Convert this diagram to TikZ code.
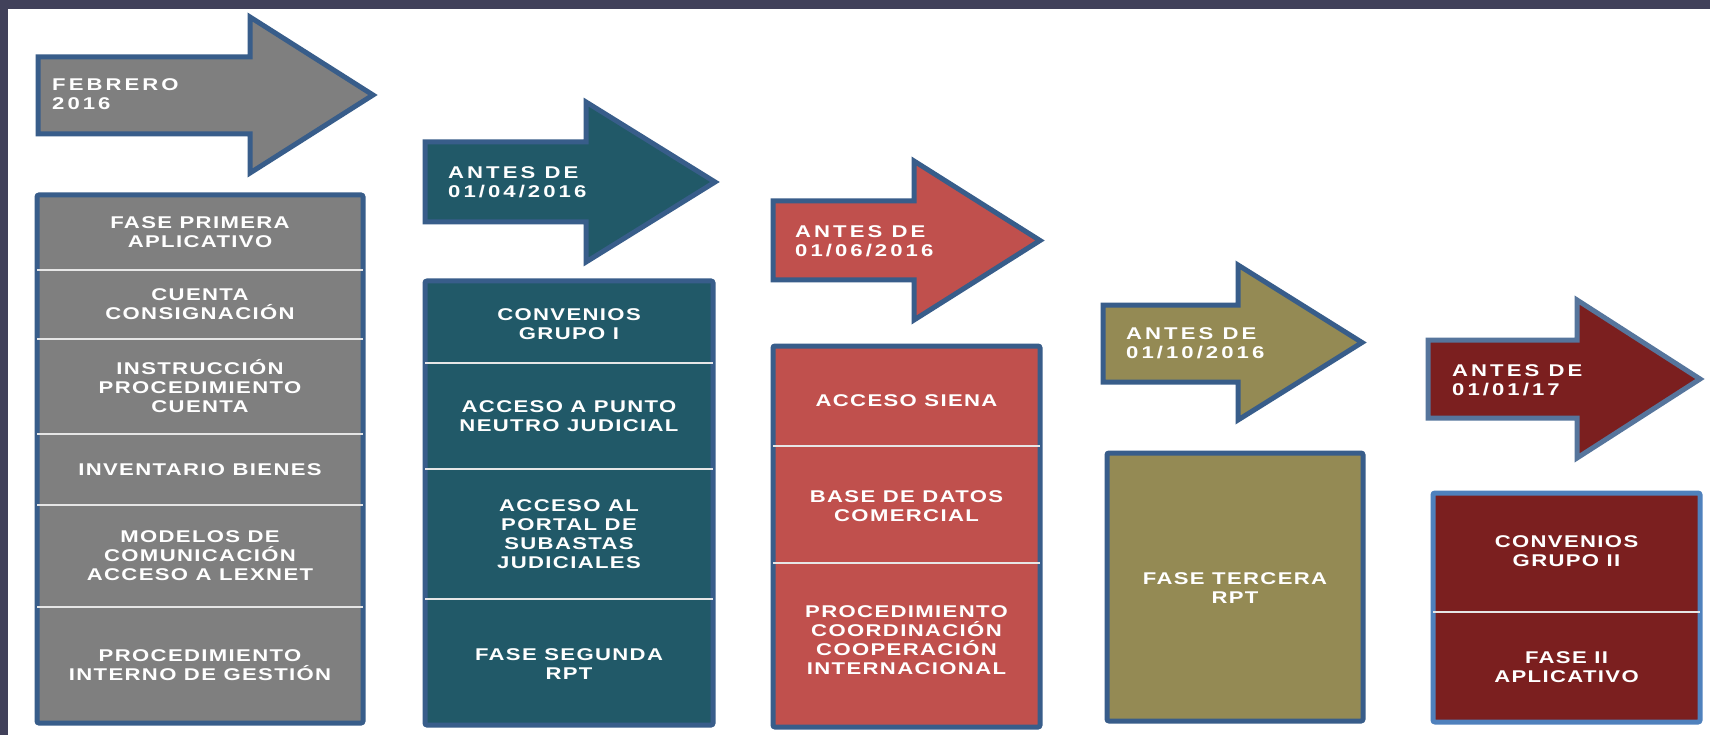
\documentclass[tikz,border=0pt]{standalone}
\usepackage{fontspec}
\setmainfont{Liberation Sans}
\newfontfamily\lblfont{Liberation Sans}[LetterSpace=8, FakeStretch=1.3]
\newfontfamily\arrfont{Liberation Sans}[LetterSpace=18, FakeStretch=1.3]
\definecolor{barcol}{HTML}{41415A}
\definecolor{edgeblue}{HTML}{385D8A}
\definecolor{edgelight}{HTML}{4F81BD}
\definecolor{divcol}{HTML}{E6E6E6}
\definecolor{cgray}{HTML}{7F7F7F}
\definecolor{cteal}{HTML}{215968}
\definecolor{cred}{HTML}{C0504D}
\definecolor{colive}{HTML}{948A54}
\definecolor{cmaroon}{HTML}{7B1F1F}
\begin{document}
\begin{tikzpicture}[x=1pt,y=-1pt,
  arrowshape/.style={draw=edgeblue, line width=5pt, line join=miter},
  boxshape/.style={draw=edgeblue, line width=5pt, rounded corners=2pt},
  divider/.style={draw=divcol, line width=2pt},
  celltext/.style={text=white, font=\lblfont\bfseries\fontsize{17}{19}\selectfont, align=center, inner sep=0pt},
  arrowtext/.style={text=white, font=\arrfont\bfseries\fontsize{17}{18.5}\selectfont, align=left, anchor=west, inner sep=0pt}]
\useasboundingbox (0,0) rectangle (1710,735);
\fill[white] (0,0) rectangle (1710,735);
\fill[barcol] (0,0) rectangle (1710,9);
\fill[barcol] (0,0) rectangle (8,735);

% ---- Arrows ----
\draw[arrowshape, fill=cgray] (38,57) -- (250,57) -- (250,17) -- (373,95) -- (250,173) -- (250,134) -- (38,134) -- cycle;
\node[arrowtext] (a1) at (52,94) {FEBRERO\\2016};

\draw[arrowshape, fill=cteal] (425,142) -- (586,142) -- (586,102) -- (715,182) -- (586,262) -- (586,222) -- (425,222) -- cycle;
\node[arrowtext] (a2) at (448,182) {ANTES DE\\01/04/2016};

\draw[arrowshape, fill=cred] (773,201) -- (914,201) -- (914,161) -- (1040,240.5) -- (914,320) -- (914,280) -- (773,280) -- cycle;
\node[arrowtext] (a3) at (795,241) {ANTES DE\\01/06/2016};

\draw[arrowshape, fill=colive] (1103,305) -- (1238,305) -- (1238,265) -- (1362,342.5) -- (1238,420) -- (1238,382) -- (1103,382) -- cycle;
\node[arrowtext] (a4) at (1126,343) {ANTES DE\\01/10/2016};

\draw[arrowshape, fill=cmaroon, draw=edgeblue!85!white] (1428,340) -- (1577,340) -- (1577,300) -- (1700,379) -- (1577,458) -- (1577,418) -- (1428,418) -- cycle;
\node[arrowtext] (a5) at (1452,380) {ANTES DE\\01/01/17};

% ---- Box 1 ----
\draw[boxshape, fill=cgray] (37,195) rectangle (363,723);
\foreach \y in {270,339,434,505,607} \draw[divider] (37,\y) -- (363,\y);
\node[celltext] (b1c1) at (200,232.5) {FASE PRIMERA\\APLICATIVO};
\node[celltext] (b1c2) at (200,304.5) {CUENTA\\CONSIGNACIÓN};
\node[celltext] (b1c3) at (200,386.5) {INSTRUCCIÓN\\PROCEDIMIENTO\\CUENTA};
\node[celltext] (b1c4) at (200,469.5) {INVENTARIO BIENES};
\node[celltext] (b1c5) at (200,556) {MODELOS DE\\COMUNICACIÓN\\ACCESO A LEXNET};
\node[celltext] (b1c6) at (200,665) {PROCEDIMIENTO\\INTERNO DE GESTIÓN};

% ---- Box 2 ----
\draw[boxshape, fill=cteal] (425,281) rectangle (713,725);
\foreach \y in {363,469,599} \draw[divider] (425,\y) -- (713,\y);
\node[celltext] (b2c1) at (569,324) {CONVENIOS\\GRUPO I};
\node[celltext] (b2c2) at (569,416) {ACCESO A PUNTO\\NEUTRO JUDICIAL};
\node[celltext] (b2c3) at (569,534) {ACCESO AL\\PORTAL DE\\SUBASTAS\\JUDICIALES};
\node[celltext] (b2c4) at (569,664) {FASE SEGUNDA\\RPT};

% ---- Box 3 ----
\draw[boxshape, fill=cred] (773,346) rectangle (1040,727);
\foreach \y in {446,563} \draw[divider] (773,\y) -- (1040,\y);
\node[celltext] (b3c1) at (906.5,401) {ACCESO SIENA};
\node[celltext] (b3c2) at (906.5,506) {BASE DE DATOS\\COMERCIAL};
\node[celltext] (b3c3) at (906.5,640) {PROCEDIMIENTO\\COORDINACIÓN\\COOPERACIÓN\\INTERNACIONAL};

% ---- Box 4 ----
\draw[boxshape, fill=colive] (1107,453) rectangle (1363,721);
\node[celltext] (b4c1) at (1235,588) {FASE TERCERA\\RPT};

% ---- Box 5 ----
\draw[boxshape, fill=cmaroon, draw=edgelight] (1433,493) rectangle (1700,722);
\draw[divider] (1433,612) -- (1700,612);
\node[celltext] (b5c1) at (1566.5,551) {CONVENIOS\\GRUPO II};
\node[celltext] (b5c2) at (1566.5,667) {FASE II\\APLICATIVO};
\end{tikzpicture}
\end{document}
